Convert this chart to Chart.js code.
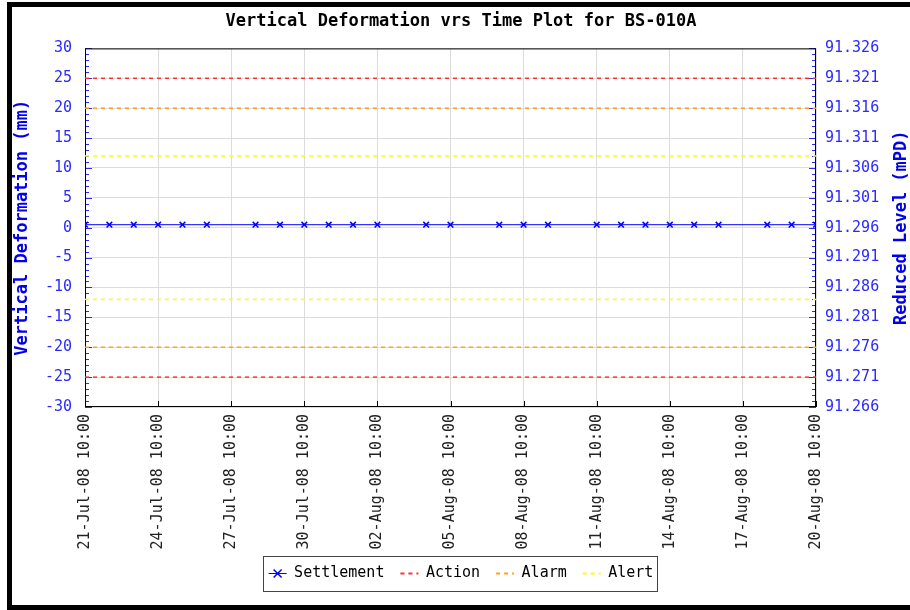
<!DOCTYPE html>
<html lang="en">
<head>
<meta charset="UTF-8">
<title>Vertical Deformation vrs Time Plot for BS-010A</title>
<script src="https://cdn.jsdelivr.net/npm/chart.js"></script>
<style>
    body { margin: 0; padding: 0; background: #fff; overflow: hidden; }
    #wrap { position: relative; width: 910px; height: 610px; }
    #frame {
        position: absolute; left: 7px; top: 2px; width: 950px; height: 608px;
        border: 5px solid #000; box-sizing: border-box; pointer-events: none;
    }
</style>
</head>
<body>
<div id="wrap">
    <canvas id="deformChart" width="910" height="610"></canvas>
    <div id="frame"></div>
</div>
<script>
    // x axis is in days after 21-Jul-08 10:00
    const tickLabels = ['21-Jul-08 10:00', '24-Jul-08 10:00', '27-Jul-08 10:00', '30-Jul-08 10:00',
        '02-Aug-08 10:00', '05-Aug-08 10:00', '08-Aug-08 10:00', '11-Aug-08 10:00',
        '14-Aug-08 10:00', '17-Aug-08 10:00', '20-Aug-08 10:00'];
    const readingDays = [0, 1, 2, 3, 4, 5, 7, 8, 9, 10, 11, 12, 14, 15, 17, 18, 19, 21, 22, 23, 24, 25, 26, 28, 29, 30];
    const settlement = [0.5, 0.5, 0.5, 0.5, 0.5, 0.5, 0.5, 0.5, 0.5, 0.5, 0.5, 0.5, 0.5,
        0.5, 0.5, 0.5, 0.5, 0.5, 0.5, 0.5, 0.5, 0.5, 0.5, 0.5, 0.5, 0.5];
    const thresholdNames = ['Action', 'Alarm', 'Alert'];
    const thresholdLevels = [25, 20, 12];
    const thresholdColors = ['#ff3333', '#ffa020', '#ffff00'];
    const baseLevel = 91.296; // reduced level (mPD) at 0 mm

    const FONT = 'DejaVu Sans Mono';
    const BLUE = '#2a2aff';

    const datasets = [{
        label: 'Settlement',
        data: readingDays.map((d, i) => ({ x: d, y: settlement[i] })),
        borderColor: '#0000ff',
        backgroundColor: '#0000ff',
        borderWidth: 1,
        pointStyle: 'crossRot',
        pointRadius: 4,
        pointBorderWidth: 1.5,
        yAxisID: 'y'
    }];
    thresholdNames.forEach((name, i) => {
        [1, -1].forEach(sign => {
            datasets.push({
                label: name,
                isLower: sign < 0,
                data: [{ x: 0, y: sign * thresholdLevels[i] }, { x: 30, y: sign * thresholdLevels[i] }],
                borderColor: thresholdColors[i],
                backgroundColor: thresholdColors[i],
                borderWidth: 1.5,
                borderDash: [4, 4],
                pointRadius: 0,
                yAxisID: 'y'
            });
        });
    });

    const framePlugin = {
        id: 'framePlugin',
        beforeDatasetsDraw(chart) {
            const { ctx, chartArea: a, scales } = chart;
            ctx.save();
            ctx.lineWidth = 1;
            // minor ticks inside the plot on both vertical axes
            ctx.strokeStyle = BLUE;
            for (let v = scales.y.min; v <= scales.y.max; v++) {
                const y = Math.round(scales.y.getPixelForValue(v)) + 0.5;
                const len = v % 5 === 0 ? 7 : 4;
                ctx.beginPath();
                ctx.moveTo(a.left, y); ctx.lineTo(a.left + len, y);
                ctx.moveTo(a.right, y); ctx.lineTo(a.right - len, y);
                ctx.stroke();
            }
            ctx.strokeStyle = '#000';
            scales.x.ticks.forEach(t => {
                const x = Math.round(scales.x.getPixelForValue(t.value)) + 0.5;
                ctx.beginPath();
                ctx.moveTo(x, a.bottom); ctx.lineTo(x, a.bottom - 6);
                ctx.stroke();
            });
            ctx.strokeRect(a.left + 0.5, a.top + 0.5, a.width - 1, a.height - 1);
            ctx.restore();
        },
        afterDraw(chart) {
            const { ctx, chartArea: a } = chart;
            ctx.save();
            // right axis title reads bottom to top
            ctx.translate(902, (a.top + a.bottom) / 2);
            ctx.rotate(-Math.PI / 2);
            ctx.font = 'bold 17px ' + FONT;
            ctx.fillStyle = '#0000ee';
            ctx.textAlign = 'center';
            ctx.textBaseline = 'middle';
            ctx.fillText('Reduced Level (mPD)', 0, 0);
            ctx.restore();

            const hb = chart.legend.legendHitBoxes;
            if (!hb || !hb.length) return;
            const first = hb[0], last = hb[hb.length - 1];
            ctx.save();
            ctx.strokeStyle = '#444';
            ctx.lineWidth = 1;
            const left = Math.round(first.left - 6) + 0.5;
            const right = Math.round(last.left + last.width + 4) + 0.5;
            const top = Math.round(first.top - 10) + 0.5;
            const bottom = Math.round(first.top + first.height + 10) + 0.5;
            ctx.strokeRect(left, top, right - left, bottom - top);
            // cross marker on the settlement legend line
            const cx = first.left + 9, cy = first.top + 7.5;
            ctx.strokeStyle = '#0000ff';
            ctx.lineWidth = 1.5;
            ctx.beginPath();
            ctx.moveTo(cx - 4, cy - 4); ctx.lineTo(cx + 4, cy + 4);
            ctx.moveTo(cx - 4, cy + 4); ctx.lineTo(cx + 4, cy - 4);
            ctx.stroke();
            ctx.restore();
        }
    };

    new Chart(document.getElementById('deformChart'), {
        type: 'line',
        data: { datasets: datasets },
        plugins: [framePlugin],
        options: {
            responsive: false,
            animation: false,
            layout: { padding: { left: 12, right: 0, top: 2, bottom: 19 } },
            plugins: {
                title: {
                    display: true,
                    text: 'Vertical Deformation vrs Time Plot for BS-010A',
                    color: '#000',
                    font: { family: FONT, size: 17, weight: 'bold', lineHeight: 1.2 },
                    padding: { top: 9, bottom: 17 }
                },
                legend: {
                    position: 'bottom',
                    labels: {
                        usePointStyle: true,
                        pointStyleWidth: 18,
                        padding: 16,
                        color: '#000',
                        font: { family: FONT, size: 15 },
                        filter: (item, data) => !data.datasets[item.datasetIndex].isLower,
                        generateLabels: chart => Chart.defaults.plugins.legend.labels.generateLabels(chart)
                            .map(l => {
                                const ds = chart.data.datasets[l.datasetIndex];
                                return Object.assign(l, {
                                    pointStyle: 'line',
                                    strokeStyle: ds.borderColor,
                                    fillStyle: ds.borderColor,
                                    lineDash: ds.borderDash || [],
                                    lineWidth: ds.borderDash ? 2 : 1
                                });
                            })
                    }
                },
                tooltip: { enabled: false }
            },
            scales: {
                x: {
                    type: 'linear',
                    min: 0,
                    max: 30,
                    afterFit: s => { s.height = 143; },
                    ticks: {
                        stepSize: 3,
                        autoSkip: false,
                        maxRotation: 90,
                        minRotation: 90,
                        padding: 7,
                        color: '#222',
                        font: { family: FONT, size: 15 },
                        callback: v => tickLabels[Math.round(v / 3)]
                    },
                    grid: { color: '#dcdcdc', drawTicks: false },
                    border: { display: false }
                },
                y: {
                    position: 'left',
                    min: -30,
                    max: 30,
                    afterFit: s => { s.width = 73; },
                    ticks: { stepSize: 5, padding: 13, color: BLUE, font: { family: FONT, size: 15 } },
                    grid: { color: '#dcdcdc', drawTicks: false },
                    border: { display: false },
                    title: {
                        display: true,
                        text: 'Vertical Deformation (mm)',
                        color: '#0000ee',
                        font: { family: FONT, size: 17, weight: 'bold' },
                        padding: 0
                    }
                },
                y2: {
                    position: 'right',
                    min: -30,
                    max: 30,
                    afterFit: s => { s.width = 94; },
                    ticks: {
                        stepSize: 5, padding: 9, color: BLUE, font: { family: FONT, size: 15 },
                        callback: v => (baseLevel + v / 1000).toFixed(3)
                    },
                    grid: { drawOnChartArea: false, drawTicks: false },
                    border: { display: false }
                }
            }
        }
    });
</script>
</body>
</html>
